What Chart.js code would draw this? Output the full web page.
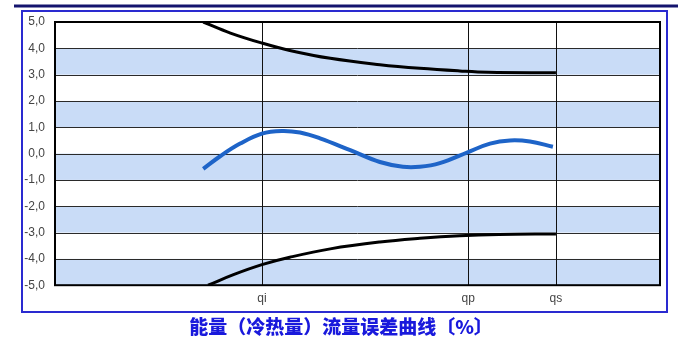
<!DOCTYPE html>
<html>
<head>
<meta charset="utf-8">
<script src="https://cdn.jsdelivr.net/npm/chart.js@4.4.1/dist/chart.umd.min.js"></script>
<style>
  html, body { margin: 0; padding: 0; background: #fff; }
  #wrap { position: relative; width: 691px; height: 349px; }
</style>
</head>
<body>
<div id="wrap"><canvas id="errChart" width="691" height="349"></canvas></div>
<script>
// flow positions along the x axis (share of plot width, 0..100)
const tickNames = ['qi', 'qp', 'qs'];
const tickPositions = [34.2, 68.3, 82.8];

// upper / lower error limits [%]
const upperX = [24.5, 29.0, 34.2, 38.8, 45.5, 53.7, 60.3, 66.9, 71.6, 82.8];
const upperY = [5.0, 4.58, 4.20, 3.92, 3.62, 3.38, 3.24, 3.14, 3.09, 3.07];
const lowerX = [25.3, 29.5, 34.2, 38.8, 45.5, 53.7, 60.3, 66.9, 73.4, 82.8];
const lowerY = [-5.0, -4.60, -4.22, -3.94, -3.62, -3.36, -3.22, -3.12, -3.07, -3.05];

// measured error curve [%]
const errX = [24.5, 27.3, 30.6, 34.2, 37.5, 40.5, 43.8, 48.8, 53.7, 57.5, 60.3, 63.6, 68.3, 71.9, 75.2, 78.5, 82.3];
const errY = [-0.58, -0.10, 0.38, 0.76, 0.86, 0.80, 0.58, 0.13, -0.32, -0.50, -0.50, -0.36, 0.06, 0.38, 0.50, 0.46, 0.26];

const shadedBands = [[3, 4], [1, 2], [-1, 0], [-3, -2], [-5, -4]];

const toPoints = (xs, ys) => xs.map((x, i) => ({ x: x, y: ys[i] }));

const frame = {
    id: 'frame',
    beforeDraw(chart) {
        const c = chart.ctx;
        c.save();
        c.strokeStyle = '#14146e';
        c.lineWidth = 3;
        c.beginPath();
        c.moveTo(14, 6);
        c.lineTo(678, 6);
        c.stroke();
        c.strokeStyle = '#2a2ad0';
        c.lineWidth = 2;
        c.strokeRect(22, 11, 645, 301);
        c.restore();
    },
    beforeDatasetsDraw(chart) {
        const c = chart.ctx;
        const a = chart.chartArea;
        const y = chart.scales.y;
        c.save();
        c.fillStyle = 'rgb(201,220,247)';
        shadedBands.forEach(b => {
            const top = y.getPixelForValue(b[1]);
            const bottom = y.getPixelForValue(b[0]);
            c.fillRect(a.left, top, a.right - a.left, bottom - top);
        });
        // grid on top of the bands
        c.strokeStyle = '#2a2a2a';
        c.lineWidth = 1;
        y.ticks.forEach(t => {
            const py = Math.round(y.getPixelForValue(t.value)) + 0.5;
            c.beginPath(); c.moveTo(a.left, py); c.lineTo(a.right, py); c.stroke();
        });
        const x = chart.scales.x;
        c.strokeStyle = '#111';
        tickPositions.forEach(v => {
            const px = Math.round(x.getPixelForValue(v)) + 0.5;
            c.beginPath(); c.moveTo(px, a.top); c.lineTo(px, a.bottom); c.stroke();
        });
        c.restore();
    },
    afterDraw(chart) {
        const c = chart.ctx;
        const a = chart.chartArea;
        c.save();
        c.strokeStyle = '#000';
        c.lineWidth = 2;
        c.strokeRect(a.left, a.top, a.right - a.left, a.bottom - a.top);
        c.restore();
    }
};

const ctx = document.getElementById('errChart');
new Chart(ctx, {
    type: 'line',
    data: {
        datasets: [{
            data: toPoints(upperX, upperY),
            borderColor: '#000',
            borderWidth: 3,
            pointRadius: 0,
            tension: 0.4
        }, {
            data: toPoints(lowerX, lowerY),
            borderColor: '#000',
            borderWidth: 3,
            pointRadius: 0,
            tension: 0.4
        }, {
            data: toPoints(errX, errY),
            borderColor: 'rgb(30,100,200)',
            borderWidth: 4,
            pointRadius: 0,
            tension: 0.4
        }]
    },
    options: {
        responsive: false,
        animation: false,
        layout: { padding: { left: 22, right: 31, top: 22, bottom: 7 } },
        plugins: {
            legend: { display: false },
            tooltip: { enabled: false },
            title: {
                display: true,
                position: 'bottom',
                text: '能量（冷热量）流量误差曲线〔%〕',
                color: 'rgb(25,25,220)',
                font: { family: '"Noto Sans CJK SC"', size: 19, weight: '900' },
                padding: { top: 6, bottom: 4 }
            }
        },
        scales: {
            x: {
                type: 'linear',
                min: 0,
                max: 100,
                afterBuildTicks: scale => { scale.ticks = tickPositions.map(v => ({ value: v })); },
                afterFit: scale => { scale.height = 24; },
                grid: { display: false, drawTicks: false },
                border: { display: false },
                ticks: {
                    padding: 6,
                    autoSkip: false,
                    maxRotation: 0,
                    color: '#444',
                    font: { family: '"Liberation Sans"', size: 12 },
                    callback: v => tickNames[tickPositions.indexOf(v)]
                }
            },
            y: {
                min: -5,
                max: 5,
                afterFit: scale => { scale.width = 33; },
                grid: { display: false, drawTicks: false },
                border: { display: false },
                ticks: {
                    stepSize: 1,
                    padding: 10,
                    color: '#444',
                    font: { family: '"Liberation Sans"', size: 12 },
                    callback: v => v.toFixed(1).replace('.', ',')
                }
            }
        }
    },
    plugins: [frame]
});
</script>
</body>
</html>
